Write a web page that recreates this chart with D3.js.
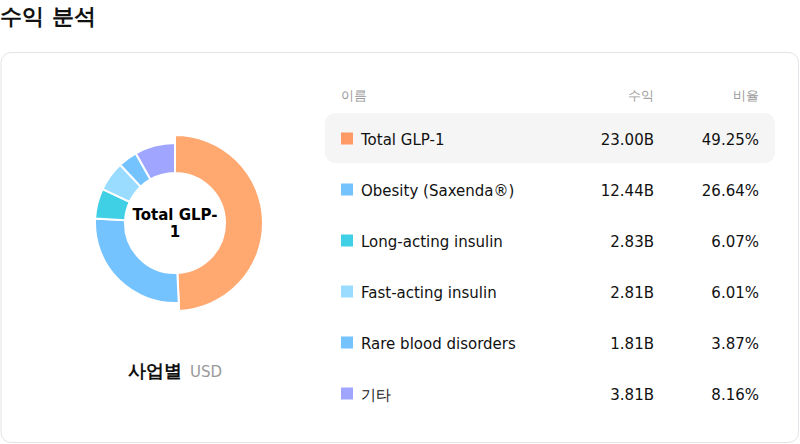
<!DOCTYPE html><html><head><meta charset="utf-8"><script src="https://cdn.jsdelivr.net/npm/d3@7"></script>
<style>body{margin:0;background:#fff;font-family:"DejaVu Sans",sans-serif}</style></head><body><svg id="c" width="800" height="444"></svg>
<script>
const names=["Total GLP-1","Obesity (Saxenda®)","Long-acting insulin","Fast-acting insulin","Rare blood disorders","기타"];
const revenue=[23.00,12.44,2.83,2.81,1.81,3.81];
const shares=[49.25,26.64,6.07,6.01,3.87,8.16];
const colors=["#ffa870","#74c3ff","#40d0e6","#99dcff","#74c3ff","#a0a6ff"];
const svg=d3.select("#c");
svg.append("text").attr("x",0).attr("y",24).attr("font-size",22).attr("font-weight","bold").attr("fill","#111").text("수익 분석");
svg.append("rect").attr("x",1).attr("y",52.5).attr("width",797.5).attr("height",390).attr("rx",10).attr("fill","#fff").attr("stroke","#e2e2e8");
const g=svg.append("g").attr("transform","translate(175,223)");
const pie=d3.pie().sort(null).value(d=>d)(shares);
g.selectAll("path").data(pie).enter().append("path")
 .attr("d",(d,i)=>d3.arc().innerRadius(50).outerRadius(i===0?88:80)(d))
 .attr("fill",(d,i)=>colors[i]).attr("stroke","#fff").attr("stroke-width",2);
g.append("text").attr("text-anchor","middle").attr("y",-3).attr("font-size",15).attr("font-weight","bold").text("Total GLP-");
g.append("text").attr("text-anchor","middle").attr("y",14).attr("font-size",15).attr("font-weight","bold").text("1");
const lab=svg.append("text").attr("x",175).attr("y",377).attr("text-anchor","middle");
lab.append("tspan").attr("font-size",18).attr("font-weight","bold").attr("fill","#111").text("사업별");
lab.append("tspan").attr("dx",8).attr("font-size",15).attr("fill","#999").text("USD");
svg.append("text").attr("x",341).attr("y",100).attr("font-size",13).attr("fill","#999").text("이름");
svg.append("text").attr("x",654).attr("y",100).attr("font-size",13).attr("fill","#999").attr("text-anchor","end").text("수익");
svg.append("text").attr("x",759).attr("y",100).attr("font-size",13).attr("fill","#999").attr("text-anchor","end").text("비율");
const y=d3.scaleBand().domain(names).range([113,419]);
svg.append("rect").attr("x",325).attr("y",y(names[0])).attr("width",450).attr("height",50).attr("rx",10).attr("fill","#f5f5f5");
const rows=svg.selectAll("g.r").data(names).enter().append("g").attr("transform",d=>`translate(0,${y(d)+y.bandwidth()/2})`);
rows.append("rect").attr("x",341).attr("y",-6).attr("width",12).attr("height",12).attr("fill",(d,i)=>i===0?"#ff9966":colors[i]);
rows.append("text").attr("x",361).attr("y",6).attr("font-size",15).attr("fill","#111").text(d=>d);
rows.append("text").attr("x",654).attr("y",6).attr("font-size",15).attr("fill","#111").attr("text-anchor","end").text((d,i)=>revenue[i].toFixed(2)+"B");
rows.append("text").attr("x",759).attr("y",6).attr("font-size",15).attr("fill","#111").attr("text-anchor","end").text((d,i)=>shares[i].toFixed(2)+"%");
</script></body></html>
